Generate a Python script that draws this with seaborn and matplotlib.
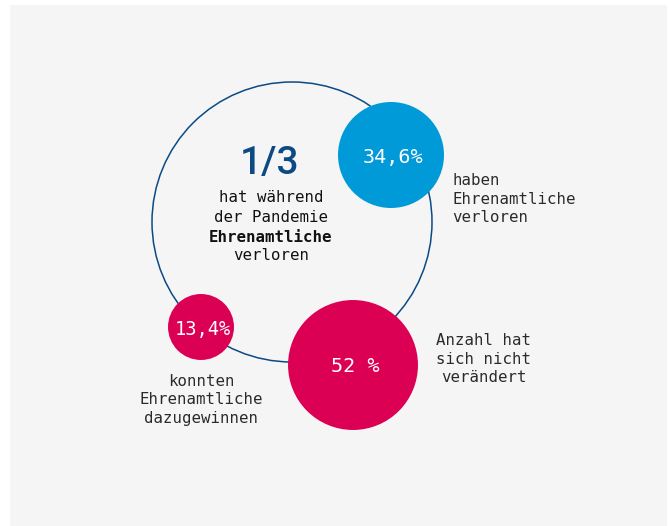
import pandas as pd
import seaborn as sns
import matplotlib.pyplot as plt
from matplotlib.patches import Circle, Rectangle

# data
gruppen = ["verloren", "unverändert", "gewonnen"]
anteile = [34.6, 52.0, 13.4]
anteil_texte = ["34,6%", "52 %", "13,4%"]
beschreibungen = ["haben\nEhrenamtliche\nverloren",
                  "Anzahl hat\nsich nicht\nverändert",
                  "konnten\nEhrenamtliche\ndazugewinnen"]
kernzahl = "1/3"
kern_text = ["hat während", "der Pandemie", "Ehrenamtliche", "verloren"]

# layout (pixel coords)
pos_x = [391, 353, 201]
pos_y = [155, 365, 327]
farben = {"verloren": "#009ad8", "unverändert": "#dc0055", "gewonnen": "#dc0055"}

df = pd.DataFrame({"gruppe": gruppen, "anteil": anteile, "x": pos_x, "y": pos_y})

mono = "DejaVu Sans Mono"
plt.rcParams["font.family"] = [mono, "DejaVu Sans"]

fig = plt.figure(figsize=(6.72, 5.26), dpi=100, facecolor="white")
ax = fig.add_axes([0, 0, 1, 1])

ax.add_patch(Rectangle((10, 5), 657, 521, facecolor="#f5f5f5", edgecolor="none", zorder=0))
ax.add_patch(Circle((292, 222), 140, facecolor="none", edgecolor="#0b4a85", lw=1.1, zorder=1))

# bubble area proportional to share; 34,6 -> r=53px
k = (1.44 * 53) ** 2 / 34.6
sns.scatterplot(data=df, x="x", y="y", hue="gruppe", palette=farben,
                size="anteil", sizes={v: k * v for v in anteile},
                linewidth=0, legend=False, ax=ax, zorder=2)
ax.set_xlim(0, 672)
ax.set_ylim(526, 0)
ax.axis("off")

for x, y, t, fs in zip(pos_x, pos_y, anteil_texte, [14.5, 14.5, 13.5]):
    ax.text(x + 2, y + 2, t, color="white", fontsize=fs, ha="center", va="center", zorder=3)

txt = dict(fontsize=11.3, va="center", linespacing=1.32, color="#2a2a2a")
ax.text(452, 199, beschreibungen[0], ha="left", **txt)
ax.text(484, 359, beschreibungen[1], ha="center", multialignment="center", **txt)
ax.text(201, 400, beschreibungen[2], ha="center", multialignment="center", **txt)

ax.text(270, 164, kernzahl, fontsize=28, ha="center", va="center",
        color="#0b4a85", family=["Roboto", "DejaVu Sans"], fontweight="medium")
for i, (t, yy) in enumerate(zip(kern_text, [197, 217, 237, 256])):
    ax.text(271, yy, t, fontsize=11.3, ha="center", va="center", color="#111111",
            fontweight="bold" if i == 2 else "normal")

fig.savefig("out.png", dpi=100, facecolor="white")
